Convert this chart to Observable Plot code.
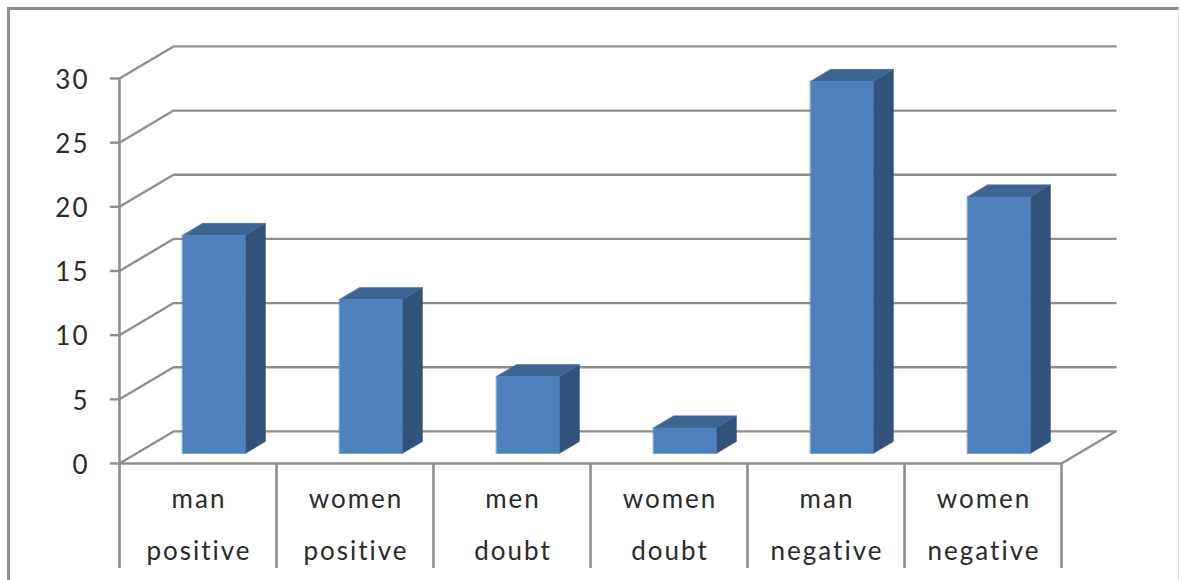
<!DOCTYPE html>
<html>
<head>
<meta charset="utf-8">
<script src="https://cdn.jsdelivr.net/npm/d3@7"></script>
<script src="https://cdn.jsdelivr.net/npm/@observablehq/plot@0.6"></script>
<style>
  html, body { margin: 0; padding: 0; background: #fff; overflow: hidden; }
  #chart { position: relative; width: 1180px; height: 580px; }
  #border {
    position: absolute; left: 7px; top: 7px; width: 1172px; height: 580px;
    box-sizing: border-box;
    border-top: 3px solid #8e8e8e; border-left: 3px solid #8e8e8e; border-right: 1px solid #e2e2e2;
  }
  #chart svg { position: absolute; left: 0; top: 0; background: transparent !important; }
</style>
</head>
<body>
<div id="chart"><div id="border"></div></div>
<script>
// Survey answers by group
const topLabels = ["man", "women", "men", "women", "man", "women"];
const bottomLabels = ["positive", "positive", "doubt", "doubt", "negative", "negative"];
const counts = [17, 12, 6, 2, 29, 20];
const yTicks = [0, 5, 10, 15, 20, 25, 30];

// Oblique projection: depth runs from 0 (front of the floor) to 1 (back wall)
const skewX = 0.344;
const skewY = 2.5;
const barFront = 0.31;
const barBack = 0.685;
const barInset = 0.294;
const barWidth = 0.4;
const lineColor = "#8e8e8e";

const px = (cat, depth) => cat + depth * skewX;
const py = (val, depth) => val + depth * skewY;

// One polygon per bar face, as vertices in chart units
const faces = [];
counts.forEach((v, i) => {
  const l = i + barInset, r = l + barWidth;
  const add = (face, verts) => verts.forEach(([c, val, d]) =>
    faces.push({id: `${i}-${face}`, face, x: px(c, d), y: py(val, d)}));
  add("front", [[l, 0, barFront], [r, 0, barFront], [r, v, barFront], [l, v, barFront]]);
  add("top", [[l, v, barFront], [r, v, barFront], [r, v, barBack], [l, v, barBack]]);
  add("side", [[r, 0, barFront], [r, 0, barBack], [r, v, barBack], [r, v, barFront]]);
});
const faceMark = (face, fill) => Plot.line(faces.filter(d => d.face === face), {
  x: "x", y: "y", z: "id", fill, stroke: fill, strokeWidth: 0.5, curve: "linear-closed"
});

// Side wall and back wall grid lines, one three-point path per tick
const grid = yTicks.flatMap(t => [
  {t, x: px(0, 0), y: py(t, 0)},
  {t, x: px(0, 1), y: py(t, 1)},
  {t, x: px(counts.length, 1), y: py(t, 1)}
]);
const floorEdge = [
  {x: px(0, 0), y: 0},
  {x: px(counts.length, 0), y: 0},
  {x: px(counts.length, 1), y: py(0, 1)}
];
const categoryIdx = d3.range(counts.length);
const boundaries = d3.range(counts.length + 1);

const chart = Plot.plot({
  width: 1180,
  height: 580,
  margin: 0,
  x: {type: "linear", domain: [0, 6], range: [119, 1061], axis: null},
  y: {type: "linear", domain: [0, 30], range: [463, 78], axis: null},
  style: {fontFamily: "Lato, sans-serif", background: "transparent", overflow: "visible"},
  marks: [
    Plot.line(grid, {x: "x", y: "y", z: "t", stroke: lineColor, strokeWidth: 2.4}),
    Plot.line(floorEdge, {x: "x", y: "y", stroke: lineColor, strokeWidth: 2.4}),
    // Value axis with its outward ticks
    Plot.ruleX([0], {y1: 0, y2: 30, stroke: lineColor, strokeWidth: 2.6}),
    Plot.ruleY(yTicks, {x1: -0.058, x2: 0, stroke: lineColor, strokeWidth: 2.4}),
    // Category separators hanging below the floor
    Plot.link(boundaries, {
      x1: d => d, x2: d => d, y1: () => 0, y2: () => -8.15,
      stroke: lineColor, strokeWidth: 2.6
    }),
    faceMark("side", "#30527b"),
    faceMark("top", "#3d6493"),
    faceMark("front", "#4f81bd"),
    Plot.text(yTicks, {
      x: () => 0, y: d => d, text: d => String(d), dx: -30, dy: 2,
      textAnchor: "end", fontSize: 26, fill: "#2a2a2a"
    }),
    Plot.text(categoryIdx, {
      x: i => i + 0.5, y: () => 0, text: i => topLabels[i], dx: 1, dy: 36,
      fontSize: 26, fill: "#2a2a2a"
    }),
    Plot.text(categoryIdx, {
      x: i => i + 0.5, y: () => 0, text: i => bottomLabels[i], dx: 1, dy: 88,
      fontSize: 26, fill: "#2a2a2a"
    })
  ]
});
chart.style.letterSpacing = "2px";
document.getElementById("chart").appendChild(chart);
</script>
</body>
</html>
